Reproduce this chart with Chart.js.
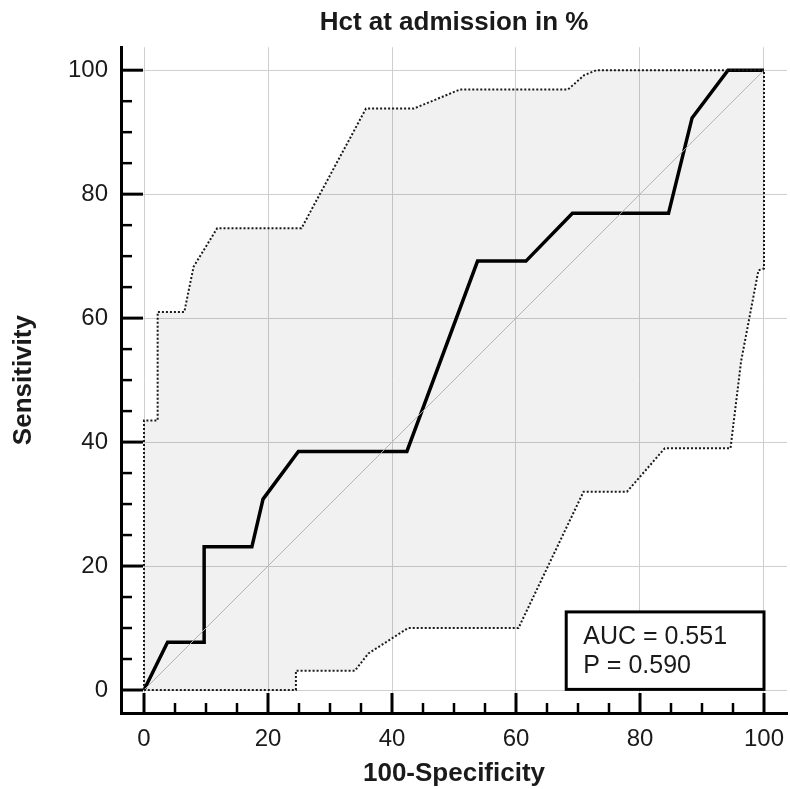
<!DOCTYPE html>
<html>
<head>
<meta charset="utf-8">
<script src="https://cdn.jsdelivr.net/npm/chart.js@4.4.1/dist/chart.umd.min.js"></script>
<style>
  body { margin: 0; background: #fff; }
  #wrap { width: 790px; height: 789px; }
</style>
</head>
<body>
<div id="wrap"><canvas id="roc" width="790" height="789"></canvas></div>
<script>
// ROC curve (100-Specificity vs Sensitivity)
const rocX = [0, 3.8, 9.7, 9.7, 17.4, 19.2, 24.9, 42.4, 53.8, 61.6, 69.1, 84.6, 88.4, 94.2, 100];
const rocY = [0, 7.7, 7.7, 23.1, 23.1, 30.8, 38.5, 38.5, 69.2, 69.2, 76.9, 76.9, 92.3, 100, 100];

// 95% confidence bounds
const ciUpperX = [0, 0, 2.2, 2.2, 6.5, 8.0, 11.8, 25.4, 35.8, 43.5, 51.0, 68.4, 71.0, 73.0, 100];
const ciUpperY = [0, 43.5, 43.5, 61.0, 61.0, 68.3, 74.5, 74.5, 93.8, 93.8, 96.9, 96.9, 99.2, 100, 100];
const ciLowerX = [0, 24.5, 24.5, 34.0, 36.2, 42.6, 60.4, 70.9, 77.9, 84.0, 94.6, 96.3, 99.1, 100, 100];
const ciLowerY = [0, 0, 3.1, 3.1, 5.9, 10.0, 10.0, 32.0, 32.0, 39.0, 39.0, 53.0, 67.7, 68.0, 100];

// reference diagonal
const diagX = [0, 100];
const diagY = [0, 100];

const xTicks = [0, 20, 40, 60, 80, 100];
const yTicks = [0, 20, 40, 60, 80, 100];
const minorStep = 5;

const statLines = ["AUC = 0.551", "P = 0.590"];

const pts = (xs, ys) => xs.map((x, i) => ({ x: x, y: ys[i] }));

// closed band: upper bound forward, lower bound back
const band = pts(ciUpperX, ciUpperY).concat(pts(ciLowerX, ciLowerY).reverse().slice(1));

Chart.defaults.font.family = "'Liberation Sans', Arial, sans-serif";
Chart.defaults.color = "#1a1a1a";

// inward tick marks + AUC box
const extras = {
  id: "extras",
  afterDatasetsDraw(chart) {
    const ctx = chart.ctx;
    const xs = chart.scales.x, ys = chart.scales.y;
    const area = chart.chartArea;
    ctx.save();
    ctx.strokeStyle = "#000";
    for (let v = 0; v <= 100; v += minorStep) {
      const major = v % 20 === 0;
      ctx.lineWidth = major ? 3 : 2.5;
      const px = xs.getPixelForValue(v);
      ctx.beginPath();
      ctx.moveTo(px, area.bottom);
      ctx.lineTo(px, area.bottom - (major ? 20 : 10));
      ctx.stroke();
      const py = ys.getPixelForValue(v);
      ctx.beginPath();
      ctx.moveTo(area.left, py);
      ctx.lineTo(area.left + (major ? 22 : 11), py);
      ctx.stroke();
    }

    // stats box
    const l = xs.getPixelForValue(68.1), r = xs.getPixelForValue(100);
    const t = ys.getPixelForValue(12.6), b = ys.getPixelForValue(0.1);
    ctx.fillStyle = "#fff";
    ctx.fillRect(l, t, r - l, b - t);
    ctx.lineWidth = 3;
    ctx.strokeRect(l, t, r - l, b - t);
    ctx.fillStyle = "#1a1a1a";
    ctx.font = "25px 'Liberation Sans', Arial, sans-serif";
    ctx.textBaseline = "alphabetic";
    ctx.fillText(statLines[0], l + 17, t + 32);
    ctx.fillText(statLines[1], l + 17, t + 61);
    ctx.restore();
  }
};

new Chart(document.getElementById("roc"), {
  type: "scatter",
  data: {
    datasets: [
      {
        label: "95% CI",
        data: band,
        showLine: true,
        fill: "shape",
        backgroundColor: "rgba(0,0,0,0.055)",
        borderColor: "#1a1a1a",
        borderWidth: 2,
        borderDash: [2, 2],
        pointRadius: 0,
        tension: 0
      },
      {
        label: "diagonal",
        data: pts(diagX, diagY),
        showLine: true,
        borderColor: "#bdbdbd",
        borderWidth: 1,
        pointRadius: 0
      },
      {
        label: "ROC",
        data: pts(rocX, rocY),
        showLine: true,
        borderColor: "#000",
        borderWidth: 3.5,
        borderJoinStyle: "miter",
        pointRadius: 0,
        tension: 0
      }
    ]
  },
  options: {
    responsive: false,
    animation: false,
    layout: { padding: { top: 0, right: 3, bottom: 0, left: 0 } },
    plugins: {
      legend: { display: false },
      tooltip: { enabled: false },
      title: {
        display: true,
        fullSize: false,
        text: "Hct at admission in %",
        color: "#1a1a1a",
        font: { size: 26, weight: "bold" },
        padding: { top: 7, bottom: 9 }
      }
    },
    scales: {
      x: {
        type: "linear",
        position: "bottom",
        min: -3.71,
        max: 103.71,
        afterBuildTicks: s => { s.ticks = xTicks.map(v => ({ value: v })); },
        afterFit: s => { s.height = 76; s.paddingLeft = 0; s.paddingRight = 0; },
        grid: { color: "#cfcfcf", lineWidth: 1, drawTicks: false },
        border: { color: "#000", width: 3 },
        ticks: { font: { size: 24 }, padding: 12, maxRotation: 0, autoSkip: false },
        title: {
          display: true,
          text: "100-Specificity",
          font: { size: 26, weight: "bold" },
          padding: { top: 0, bottom: 0 }
        }
      },
      y: {
        type: "linear",
        min: -3.71,
        max: 103.71,
        afterBuildTicks: s => { s.ticks = yTicks.map(v => ({ value: v })); },
        afterFit: s => { s.width = 121; s.paddingTop = 0; s.paddingBottom = 0; },
        grid: { color: "#cfcfcf", lineWidth: 1, drawTicks: false },
        border: { color: "#000", width: 3 },
        ticks: { font: { size: 24 }, padding: 13, autoSkip: false },
        title: {
          display: true,
          text: "Sensitivity",
          font: { size: 26, weight: "bold" },
          padding: { top: 8, bottom: 0 }
        }
      }
    }
  },
  plugins: [extras]
});
</script>
</body>
</html>
